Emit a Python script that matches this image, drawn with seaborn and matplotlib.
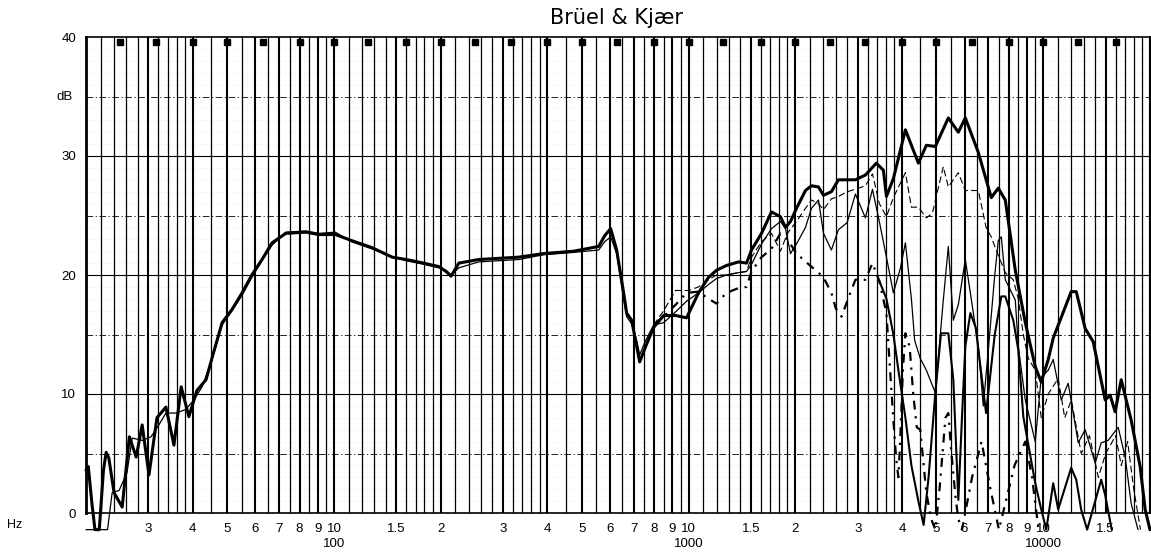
import numpy as np
import matplotlib
matplotlib.use("Agg")
import matplotlib.pyplot as plt
import seaborn as sns

# Brüel & Kjær level recorder chart - frequency response, several curves

# Thick solid curve (on-axis)
a_freq = [20.0, 20.3, 20.8, 21.2, 21.8, 22.4, 22.8, 23.2, 24.0, 25.3, 26.5, 27.7, 28.8, 30.1,
          31.7, 33.6, 35.4, 37.1, 39.0, 41.1, 43.6, 45.3, 48.4, 51.6, 55.1, 58.7, 62.7, 66.9,
          73.2, 83.4, 90.7, 101, 112, 128, 146, 160, 179, 198, 207, 214, 225, 256, 332, 390,
          474, 558, 580, 603, 627, 656, 669, 691, 714, 728, 757, 797, 851, 919, 987, 1067,
          1138, 1199, 1279, 1383, 1457, 1505, 1606, 1713, 1816, 1876, 1938, 2015, 2136, 2221,
          2324, 2401, 2528, 2645, 2954, 3152, 3384, 3543, 3613, 3780, 4087, 4446, 4682, 4963,
          5400, 5762, 6030, 6561, 7137, 7469, 7816, 8341, 8900, 9495, 9871, 10330, 10670,
          11990, 12390, 13130, 13830, 14950, 15440, 15950, 16590, 17700, 18760, 19380, 20000]
a_db = [3.6, 3.9, 0.7, -1.4, -1.4, 3.6, 5.1, 4.6, 1.7, 0.5, 6.4, 4.7, 7.4, 3.2,
        8.0, 8.9, 5.7, 10.6, 8.1, 10.3, 11.2, 13.0, 16.0, 17.1, 18.5, 20.0, 21.3, 22.7,
        23.5, 23.6, 23.4, 23.4, 22.9, 22.3, 21.5, 21.3, 21.0, 20.7, 20.3, 19.9, 21.0, 21.3, 21.5, 21.8,
        22.0, 22.4, 23.3, 23.9, 22.1, 18.5, 16.8, 16.2, 14.0, 12.7, 14.0, 15.6, 16.6, 16.6, 16.4, 18.5,
        19.8, 20.4, 20.8, 21.1, 21.0, 22.1, 23.5, 25.3, 24.9, 24.0, 24.5, 25.6, 27.1, 27.5,
        27.4, 26.7, 27.0, 28.0, 28.0, 28.4, 29.4, 28.8, 26.6, 28.1, 32.2, 29.4, 30.9, 30.8,
        33.2, 32.0, 33.2, 30.3, 26.5, 27.3, 26.3, 20.4, 16.0, 12.3, 11.0, 12.9, 14.7,
        18.6, 18.6, 15.5, 14.4, 9.5, 9.9, 8.5, 11.2, 7.8, 3.9, 0.3, -1.4]

# common low/mid part of the other curves (they lie on top of each other)
low_freq = [20.0, 23.0, 23.7, 24.8, 26.1, 27.0, 28.8, 30.5, 32.1, 33.6, 35.9, 38.2, 40.3, 42.5,
            45.3, 48.4, 51.6, 55.1, 58.7, 62.7, 66.9, 73.2, 83.4, 90.7, 101, 112, 128, 146,
            160, 179, 198, 207, 214, 225, 256, 332, 390, 474, 558, 580, 603, 627, 656, 669,
            691, 714, 728, 757, 797]
low_db = [-1.4, -1.4, 1.7, 1.9, 3.4, 6.3, 6.1, 6.4, 7.4, 8.4, 8.4, 8.7, 9.5, 10.6,
          12.9, 15.8, 17.0, 18.3, 19.8, 21.2, 22.5, 23.6, 23.7, 23.5, 23.6, 22.8, 22.2, 21.5,
          21.2, 20.9, 20.6, 20.4, 20.0, 20.6, 21.1, 21.3, 21.7, 21.9, 22.1, 22.8, 23.2, 21.8, 18.0, 16.5,
          15.9, 14.5, 13.3, 14.5, 15.8]

# thin solid curve
b_freq = [851, 919, 987, 1067, 1138, 1199, 1279, 1383, 1457, 1505, 1606, 1713, 1816, 1876, 1938,
          2015, 2136, 2221, 2324, 2401, 2528, 2645, 2800, 2954, 3152, 3300, 3450, 3613, 3780, 3950,
          4087, 4249, 4340, 4500, 4682, 4963, 5227, 5400, 5578, 5762, 6030, 6230, 6561, 6776, 7000,
          7300, 7469, 7616, 7816, 8000, 8341, 8505, 8900, 9495, 9871, 10330, 10670, 11240, 11760,
          12550, 13130, 14010, 14570, 15240, 16270, 17020, 17700, 18500]
b_db = [16.0, 16.9, 17.8, 18.5, 19.2, 19.7, 20.0, 20.2, 20.3, 20.9, 22.6, 23.9, 24.5, 23.9, 21.8,
        22.6, 24.0, 25.6, 26.3, 23.5, 22.1, 23.8, 24.4, 26.8, 24.8, 27.2, 24.5, 21.5, 18.5, 20.5,
        22.7, 18.0, 14.5, 13.0, 12.0, 10.1, 17.9, 22.4, 16.2, 17.5, 21.3, 18.5, 14.0, 9.0, 13.7,
        20.0, 22.9, 23.2, 19.6, 19.0, 17.9, 14.0, 9.5, 6.0, 11.4, 12.0, 12.9, 9.5, 10.9,
        5.9, 7.0, 4.2, 5.9, 6.1, 7.2, 4.7, 0.8, -1.4]

# thin dashed curve
c_freq = [851, 919, 1000, 1067, 1138, 1199, 1279, 1383, 1457, 1505, 1606, 1713, 1816, 1900, 2015,
          2136, 2221, 2324, 2401, 2528, 2645, 2800, 2954, 3152, 3300, 3450, 3613, 3780, 4087, 4249,
          4446, 4682, 4870, 5227, 5400, 5762, 6030, 6561, 6900, 7137, 7300, 7816, 8233, 8505, 8786,
          9074, 9495, 9871, 10330, 11020, 11500, 12000, 12800, 13500, 14300, 15000, 16000, 16600,
          17300, 18000, 18800]
c_db = [17.0, 18.7, 18.7, 19.0, 19.6, 20.0, 20.0, 20.2, 20.3, 21.5, 22.8, 23.5, 22.0, 23.5, 24.5,
        25.6, 26.3, 26.0, 25.5, 26.4, 26.6, 27.0, 27.2, 27.5, 28.5, 26.0, 24.9, 26.5, 28.6, 25.7,
        25.7, 24.8, 25.2, 29.1, 27.4, 28.6, 27.1, 27.1, 24.0, 23.2, 22.4, 20.2, 19.6, 18.0, 15.0,
        13.0, 12.0, 8.0, 10.0, 11.3, 8.0, 9.5, 5.0, 6.5, 3.0, 5.0, 6.5, 4.0,
        6.0, 2.0, -1.4]

# heavy dotted / dash-dot curve
d_freq = [851, 919, 987, 1067, 1138, 1199, 1279, 1383, 1457, 1505, 1606, 1713, 1816, 1900, 2015,
          2200, 2324, 2401, 2528, 2600, 2700, 2800, 2954, 3152, 3300, 3450, 3613, 3700, 3780, 3850,
          3905, 3950, 4020, 4087, 4200, 4300, 4400, 4500, 4682, 4830, 4963, 5100, 5300, 5400, 5500,
          5660, 5762, 5900, 6300, 6700, 7100, 7500, 8300, 8900, 9300, 9700]
d_db = [16.5, 17.5, 18.5, 18.6, 18.0, 17.6, 18.5, 18.9, 19.0, 20.3, 21.5, 22.2, 23.5, 23.0, 21.8,
        20.8, 20.2, 19.8, 18.5, 17.2, 16.5, 17.8, 19.6, 19.6, 21.0, 19.5, 16.8, 12.0, 7.8, 4.5,
        3.0, 6.0, 12.0, 15.1, 14.0, 10.0, 7.2, 7.0, 1.7, -0.5, -1.4, 2.0, 8.0, 8.4, 5.3,
        1.3, -0.5, -1.4, 3.0, 6.0, 2.0, -1.4, 4.0, 6.0, 3.0, -1.4]

# medium solid lowest curve
e_freq = [3450, 3613, 3780, 3905, 4087, 4249, 4446, 4600, 4750, 4963, 5150, 5400, 5578, 5762,
          5900, 6030, 6230, 6450, 6900, 7300, 7616, 7816, 8233, 8505, 8786, 9495, 9871, 10200,
          10670, 11020, 11990, 12390, 12790, 13300, 14570, 14950, 15600]
e_db = [19.5, 18.0, 15.0, 12.0, 8.0, 4.0, 1.0, -1.0, 3.0, 10.1, 15.1, 15.1, 11.2, 1.1,
        8.0, 14.0, 16.8, 15.6, 8.4, 15.0, 18.2, 18.2, 16.2, 13.7, 8.1, 2.5, 0.3, -1.4,
        2.5, 0.3, 3.8, 2.8, 0.3, -1.4, 2.8, 1.5, -1.4]

# axis labels
x_label_freqs = [30, 40, 50, 60, 70, 80, 90, 100, 150, 200, 300, 400, 500, 600, 700, 800, 900,
                 1000, 1500, 2000, 3000, 4000, 5000, 6000, 7000, 8000, 9000, 10000, 15000]
x_label_text = ['3', '4', '5', '6', '7', '8', '9', '10', '1.5', '2', '3', '4', '5', '6', '7', '8',
                '9', '10', '1.5', '2', '3', '4', '5', '6', '7', '8', '9', '10', '1.5']
decade_freqs = [100, 1000, 10000]
decade_text = ['100', '1000', '10000']
y_ticks = [0, 10, 20, 30, 40]

sns.set_style("white")
plt.rcParams['font.family'] = ['Liberation Sans', 'DejaVu Sans']
plt.rcParams['text.color'] = 'black'
plt.rcParams['xtick.color'] = 'black'
plt.rcParams['ytick.color'] = 'black'

fig = plt.figure(figsize=(11.51, 5.53), dpi=100)
ax = fig.add_axes([86 / 1151, 40 / 553, 1064 / 1151, 476 / 553])
ax.set_xscale('log')
ax.set_xlim(20, 20000)
ax.set_ylim(0, 40)

# chart paper grid
mant = np.concatenate([np.arange(1.0, 2.0, 0.1), np.arange(2.0, 4.0, 0.2), np.arange(4.0, 10.0, 0.5)])
for dec in [10, 100, 1000, 10000]:
    for m in mant:
        f = round(m * dec, 6)
        if f < 20 or f > 20000:
            continue
        bold = round(m, 2) in (1.0, 1.5, 2.0, 3.0, 4.0, 5.0, 6.0, 7.0, 8.0, 9.0)
        ax.axvline(f, color='black', lw=1.5 if bold else 0.9, zorder=1)
for v in [10, 20, 30]:
    ax.axhline(v, color='black', lw=0.8, zorder=1)
for v in [5, 15, 25, 35]:
    ax.axhline(v, color='black', lw=0.6, dashes=(8, 3, 1.5, 3), zorder=1)
for v in range(1, 40):
    if v % 5:
        ax.axhline(v, color='#e2e2e2', lw=0.4, ls=':', zorder=0)

# paper markers (third-octave) along the top
third = [25, 31.5, 40, 50, 63, 80, 100, 125, 160, 200, 250, 315, 400, 500, 630, 800, 1000, 1250,
         1600, 2000, 2500, 3150, 4000, 5000, 6300, 8000, 10000, 12500, 16000]
ax.plot(third, [39.6] * len(third), 's', color='black', ms=4, clip_on=False, zorder=3)

# curves
def draw(fx, fy, **kw):
    ln = sns.lineplot(x=fx, y=fy, ax=ax, estimator=None, sort=False, color='black', **kw)
    ln.lines[-1].set_clip_on(False)

draw(low_freq + b_freq, low_db + b_db, lw=0.9)
draw(low_freq[-1:] + c_freq, low_db[-1:] + c_db, lw=0.8, dashes=(6, 3))
draw(low_freq[-1:] + d_freq, low_db[-1:] + d_db, lw=1.6, dashes=(4, 3, 1, 3))
draw(e_freq, e_db, lw=1.5)
draw(a_freq, a_db, lw=2.2)

for s in ['left', 'right', 'top', 'bottom']:
    ax.spines[s].set_visible(True)
    ax.spines[s].set_color('black')
ax.spines['left'].set_linewidth(2)
ax.spines['bottom'].set_linewidth(1.2)
ax.spines['top'].set_linewidth(1.2)
ax.spines['right'].set_linewidth(1.5)

ax.set_xticks(x_label_freqs, x_label_text, fontsize=9.5)
ax.xaxis.set_minor_locator(matplotlib.ticker.NullLocator())
ax.set_yticks(y_ticks, [str(v) for v in y_ticks], fontsize=9.5)
ax.tick_params(length=0, pad=7, colors='black')
ax.text(-0.012, 35, 'dB', transform=ax.get_yaxis_transform(), ha='right', va='center', fontsize=9.5)
for f, t in zip(decade_freqs, decade_text):
    ax.text(f, -0.065, t, transform=ax.get_xaxis_transform(), ha='center', va='center', fontsize=9.5)
fig.text(15 / 1151, 1 - 525 / 553, 'Hz', ha='center', va='center', fontsize=9)
fig.text(617 / 1151, 1 - 18 / 553, 'Brüel & Kjær', ha='center', va='center', fontsize=15,
         color='black', family=['DejaVu Sans'])
ax.set_xlabel('')
ax.set_ylabel('')

fig.savefig('out.png', dpi=100)
